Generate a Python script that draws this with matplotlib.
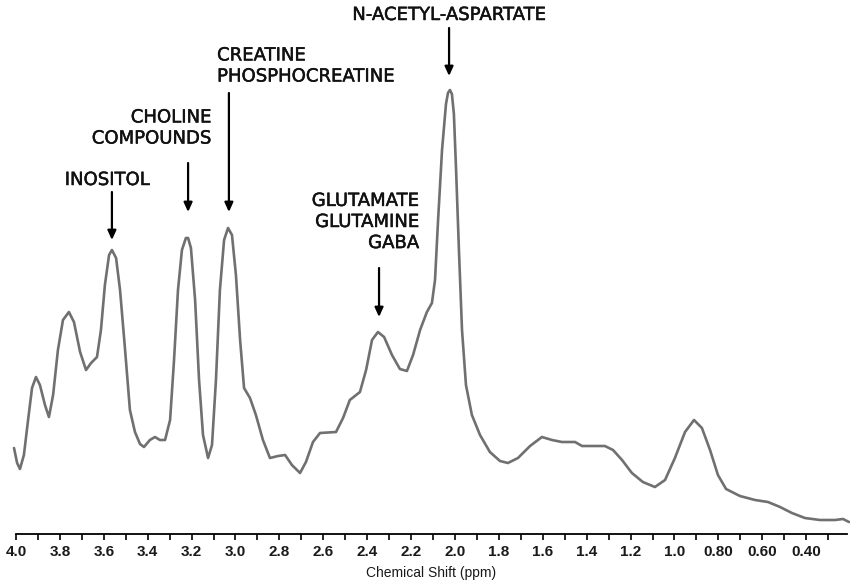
import matplotlib
matplotlib.use("Agg")
import matplotlib.pyplot as plt
import matplotlib.patheffects as pe
from matplotlib.ticker import FixedLocator, FixedFormatter, MultipleLocator

# spectrum: chemical shift (ppm) and intensity (arbitrary units)
ppm = [4.009, 3.995, 3.982, 3.964, 3.945, 3.927, 3.909, 3.891, 3.868, 3.850,
       3.831, 3.809, 3.786, 3.759, 3.736, 3.708, 3.681, 3.658, 3.631, 3.613,
       3.595, 3.576, 3.563, 3.544, 3.526, 3.503, 3.481, 3.458, 3.435, 3.417,
       3.390, 3.367, 3.344, 3.321, 3.298, 3.280, 3.262, 3.244, 3.226, 3.216,
       3.203, 3.184, 3.166, 3.148, 3.125, 3.107, 3.089, 3.071, 3.052, 3.034,
       3.016, 2.998, 2.979, 2.961, 2.934, 2.907, 2.875, 2.843, 2.806, 2.774,
       2.743, 2.706, 2.679, 2.647, 2.615, 2.542, 2.510, 2.479, 2.433, 2.405,
       2.378, 2.351, 2.323, 2.287, 2.251, 2.219, 2.191, 2.159, 2.128, 2.105,
       2.091, 2.077, 2.059, 2.041, 2.032, 2.023, 2.014, 2.005, 1.995, 1.982, 1.968, 1.950,
       1.923, 1.886, 1.841, 1.795, 1.759, 1.713, 1.658, 1.604, 1.558, 1.513,
       1.453, 1.421, 1.362, 1.317, 1.280, 1.239, 1.194, 1.144, 1.089, 1.043,
       0.998, 0.952, 0.911, 0.875, 0.838, 0.802, 0.765, 0.702, 0.633, 0.574,
       0.519, 0.465, 0.406, 0.337, 0.269, 0.232, 0.205]
intensity = [86, 71, 65, 79, 114, 146, 157, 149, 129, 117,
             139, 184, 214, 222, 212, 182, 164, 171, 177, 204,
             249, 279, 284, 276, 244, 184, 124, 102, 90, 87,
             94, 97, 94, 94, 114, 174, 244, 284, 296, 296,
             286, 234, 154, 99, 76, 89, 154, 244, 294, 306,
             299, 259, 194, 146, 136, 119, 94, 76, 78, 79,
             69, 61, 72, 92, 101, 102, 116, 134, 142, 164,
             194, 202, 197, 179, 165, 163, 179, 204, 222, 231,
             254, 314, 384, 430, 441, 444, 440, 420, 364, 284, 204, 149,
             119, 99, 82, 73, 71, 76, 88, 97, 94, 92,
             92, 88, 88, 88, 84, 74, 61, 52, 47, 54,
             76, 102, 114, 106, 84, 59, 45, 38, 34, 32,
             27, 21, 16, 14, 14, 15, 12]

tick_pos = [4.0, 3.8, 3.6, 3.4, 3.2, 3.0, 2.8, 2.6, 2.4, 2.2, 2.0,
            1.8, 1.6, 1.4, 1.2, 1.0, 0.8, 0.6, 0.4]
tick_labels = ["4.0", "3.8", "3.6", "3.4", "3.2", "3.0", "2.8", "2.6", "2.4", "2.2", "2.0",
               "1.8", "1.6", "1.4", "1.2", "1.0", "0.80", "0.60", "0.40"]

# metabolite labels and the peak each arrow points at
labels = ["N-ACETYL-ASPARTATE", "CREATINE\nPHOSPHOCREATINE", "CHOLINE\nCOMPOUNDS",
          "INOSITOL", "GLUTAMATE\nGLUTAMINE\nGABA"]
peak_ppm = [2.027, 3.030, 3.216, 3.563, 2.346]

fig = plt.figure(figsize=(8.5, 5.87), dpi=100)
ax = fig.add_axes([16 / 850, 53 / 587, 831 / 850, 534 / 587])

ax.plot(ppm, intensity, color="#707070", lw=1.9, clip_on=False,
        solid_capstyle="round", solid_joinstyle="round")
ax.set_xlim(4.0, 0.214)
ax.set_ylim(0, 534)

for s in ["top", "right", "left"]:
    ax.spines[s].set_visible(False)
ax.spines["bottom"].set_linewidth(1.3)
ax.set_yticks([])
ax.xaxis.set_major_locator(FixedLocator(tick_pos))
ax.xaxis.set_major_formatter(FixedFormatter(tick_labels))
ax.xaxis.set_minor_locator(MultipleLocator(0.1))
ax.tick_params(axis="x", which="both", direction="out", length=4, width=1.2, pad=4)
for t in ax.get_xticklabels():
    t.set_fontfamily("Liberation Sans")
    t.set_fontsize(11)
    t.set_fontweight("bold")
    t.set_color("#1a1a1a")
ax.set_xlabel("Chemical Shift (ppm)", fontfamily="Liberation Sans", fontsize=10,
              labelpad=5, color="#1a1a1a")

# a touch heavier than plain DejaVu, the original labels are medium weight
heavy = [pe.withStroke(linewidth=0.35, foreground="#111111")]
font = dict(family="DejaVu Sans", weight="normal", fontsize=13, color="#111111",
            linespacing=1.22, path_effects=heavy)
arrow = dict(arrowstyle="-|>,head_length=0.55,head_width=0.25", color="black", lw=1.6,
             shrinkA=0, shrinkB=0)

# (text x, text y, ha, arrow tail y, arrow tip y)
layout = [
    (2.027, 519, "center", 506, 458),
    (3.084, 468, "left", 441, 322),
    (3.112, 406, "right", 371, 322),
    (3.585, 354, "center", 342, 294),
    (2.164, 312, "right", 266, 217),
]

for lab, px, (tx, ty, ha, tail, tip) in zip(labels, peak_ppm, layout):
    ax.text(tx, ty, lab, ha=ha, va="center", **font)
    ax.annotate("", xy=(px, tip), xytext=(px, tail), arrowprops=arrow)

fig.savefig("out.png", dpi=100)
